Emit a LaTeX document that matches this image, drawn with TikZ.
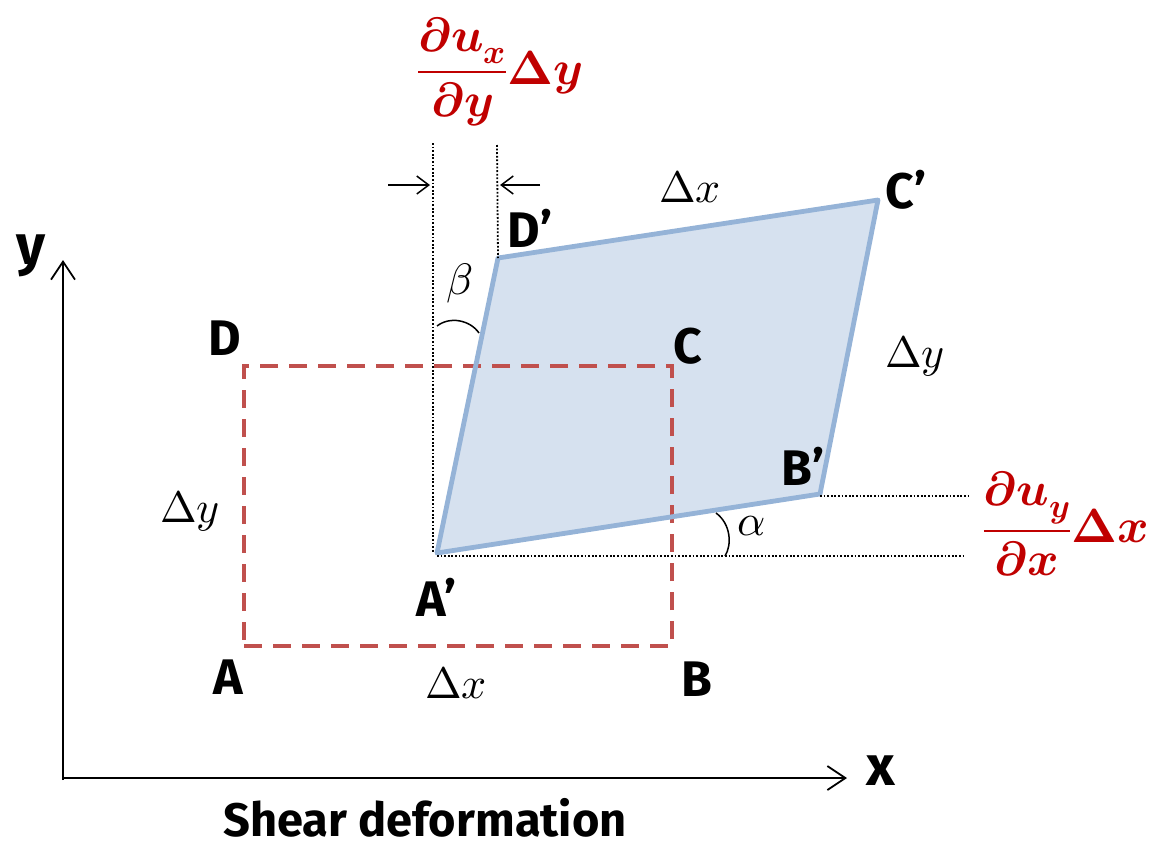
\documentclass[tikz,border=0pt]{standalone}
\usepackage{amsmath}
\usepackage{fontspec}
\usepackage{unicode-math}
\setmathfont{Latin Modern Math}
\setsansfont{Fira Sans}
\usetikzlibrary{arrows.meta}
\definecolor{rdash}{HTML}{C0504D}
\definecolor{bstroke}{HTML}{95B3D7}
\definecolor{bfill}{HTML}{D6E1EF}
\definecolor{rtext}{HTML}{C00000}
\tikzset{
  lbl/.style={font=\sffamily\bfseries\fontsize{50}{50}\selectfont, inner sep=0pt},
  axlbl/.style={font=\sffamily\bfseries\fontsize{56}{56}\selectfont, inner sep=0pt},
  mth/.style={font=\fontsize{44}{44}\selectfont, inner sep=0pt},
  redmath/.style={font=\fontsize{48}{48}\selectfont, text=rtext, inner sep=0pt},
  axisline/.style={line width=1.8pt, -{Straight Barb[length=18pt,width=24pt,line width=1.8pt]}},
  smallarrow/.style={line width=1.5pt, -{Straight Barb[length=12pt,width=18pt,line width=1.5pt]}},
  dotline/.style={line width=1.8pt, dash pattern=on 1.8pt off 1.8pt},
  rectdash/.style={draw=rdash, line width=4.8pt, dash pattern=on 18pt off 11pt},
  parafill/.style={fill=bfill},
  paraline/.style={draw=bstroke, line width=4.8pt, line join=round},
  anglearc/.style={line width=1.5pt}
}
\begin{document}
\begin{tikzpicture}[x=1pt,y=-1pt]
\useasboundingbox (0,0) rectangle (1151,849);

% axes
\coordinate (ybase) at (63,780);
\coordinate (xbase) at (62,778);
\coordinate (ytip) at (63,260);
\coordinate (xtip) at (847,778);
\draw[axisline] (ybase) -- (ytip);
\draw[axisline] (xbase) -- (xtip);
\node[axlbl] (ylab) at (31,256) {y};
\node[axlbl] (xlab) at (881,771) {x};

% corners
\coordinate (A) at (244,646);
\coordinate (B) at (672,646);
\coordinate (C) at (672,366);
\coordinate (D) at (244,366);
\coordinate (A1) at (437,553);
\coordinate (B1) at (820,494);
\coordinate (C1) at (878,200);
\coordinate (D1) at (498,258);

% deformed parallelogram fill, original rectangle, parallelogram outline
\fill[parafill] (A1) -- (B1) -- (C1) -- (D1) -- cycle;
\draw[rectdash] (A) -- (B) -- (C) -- (D) -- cycle;
\draw[paraline] (A1) -- (B1) -- (C1) -- (D1) -- cycle;

% dotted guide lines
\coordinate (v1t) at (433,143);
\coordinate (v1b) at (433,553);
\coordinate (v2t) at (497,145);
\coordinate (h1e) at (968,496);
\coordinate (h2e) at (965,556);
\coordinate (h2s) at (437,556);
\coordinate (h1s) at (820,496);
\draw[dotline] (v1t) -- (v1b);
\draw[dotline] (v2t) -- (D1);
\draw[dotline] (h1s) -- (h1e);
\draw[dotline] (h2s) -- (h2e);

% small arrows
\coordinate (la1) at (388,185);
\coordinate (la2) at (430,185);
\coordinate (ra1) at (540,185);
\coordinate (ra2) at (500,185);
\draw[smallarrow] (la1) -- (la2);
\draw[smallarrow] (ra1) -- (ra2);

% angle arcs
\coordinate (b1) at (437,326);
\coordinate (b2) at (479,333);
\draw[anglearc] (b1) .. controls (450,316) and (470,320) .. (b2);
\coordinate (a1) at (716,513);
\coordinate (a2) at (725,556);
\draw[anglearc] (a1) .. controls (731,524) and (732,545) .. (a2);

% labels
\node[lbl] (lA) at (228,677) {A};
\node[lbl] (lB) at (697,679) {B};
\node[lbl] (lC) at (688,346) {C};
\node[lbl] (lD) at (225,338) {D};
\node[lbl] (lA1) at (437,597) {A’};
\node[lbl] (lB1) at (803,466) {B’};
\node[lbl] (lC1) at (906,190) {C’};
\node[lbl] (lD1) at (530,228) {D’};

\node[mth] (dxb) at (456,683) {$\Delta x$};
\node[mth] (dyl) at (190,511) {$\Delta y$};
\node[mth] (dxt) at (690,187) {$\Delta x$};
\node[mth] (dyr) at (915,356) {$\Delta y$};
\node[mth] (beta) at (460,283) {$\beta$};
\node[mth] (alpha) at (752,526) {$\alpha$};

\node[redmath] (fx) at (500,72) {$\displaystyle\frac{\symbfit{\partial u_x}}{\symbfit{\partial y}}\symbf{\Delta}\symbfit{y}$};
\node[redmath] (fy) at (1066,524) {$\displaystyle\frac{\symbfit{\partial u_y}}{\symbfit{\partial x}}\symbf{\Delta}\symbfit{x}$};

\node[font=\sffamily\bfseries\fontsize{47}{47}\selectfont, inner sep=0pt] (title) at (425,818) {Shear deformation};
\end{tikzpicture}
\end{document}
